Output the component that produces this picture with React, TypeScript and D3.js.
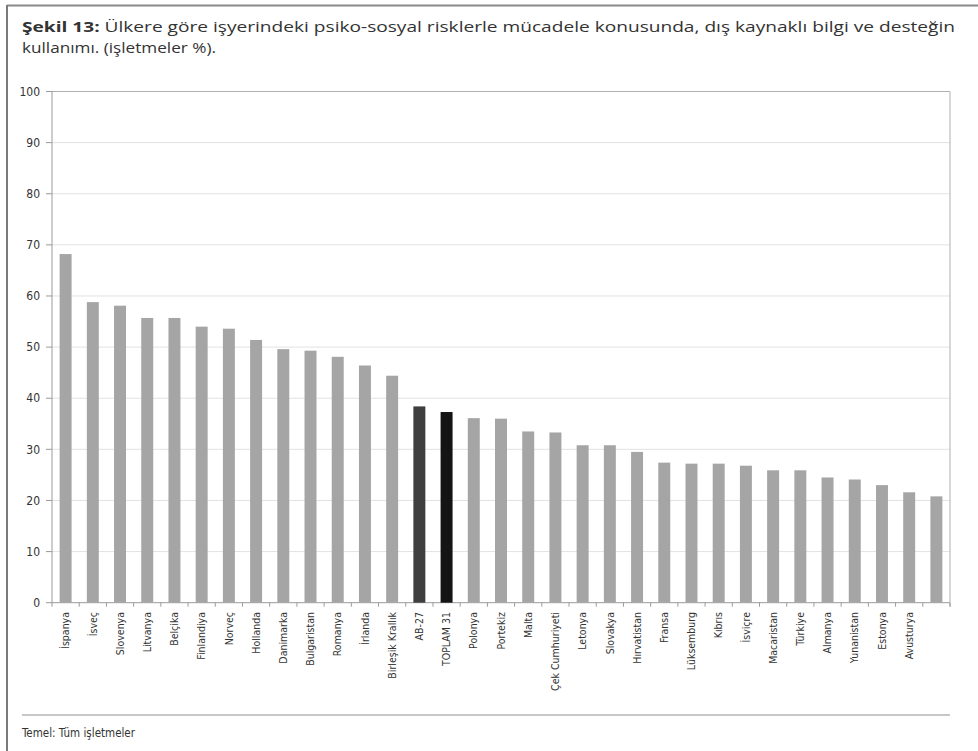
import React from "react";
import * as d3 from "d3";

const categories: string[] = [
  "İspanya", "İsveç", "Slovenya", "Litvanya", "Belçika", "Finlandiya", "Norveç",
  "Hollanda", "Danimarka", "Bulgaristan", "Romanya", "İrlanda", "Birleşik Krallık",
  "AB-27", "TOPLAM 31", "Polonya", "Portekiz", "Malta", "Çek Cumhuriyeti", "Letonya",
  "Slovakya", "Hırvatistan", "Fransa", "Lüksemburg", "Kıbrıs", "İsviçre", "Macaristan",
  "Türkiye", "Almanya", "Yunanistan", "Estonya", "Avusturya", "",
];
const values: number[] = [
  68.2, 58.8, 58.1, 55.7, 55.7, 54.0, 53.6, 51.4, 49.6, 49.3, 48.1, 46.4, 44.4,
  38.4, 37.3, 36.1, 36.0, 33.5, 33.3, 30.8, 30.8, 29.5, 27.4, 27.2, 27.2, 26.8,
  25.9, 25.9, 24.5, 24.1, 23.0, 21.6, 20.8,
];
const highlight: Record<string, string> = { "AB-27": "#3f3f3f", "TOPLAM 31": "#141414" };
const yTicks: number[] = [0, 10, 20, 30, 40, 50, 60, 70, 80, 90, 100];
const titleBold = "Şekil 13:";
const titleRest1 = " Ülkere göre işyerindeki psiko-sosyal risklerle mücadele konusunda, dış kaynaklı bilgi ve desteğin";
const titleLine2 = "kullanımı. (işletmeler %).";
const footerText = "Temel: Tüm işletmeler";

const W = 978;
const H = 751;
const left = 52;
const right = 950;
const top = 91.5;
const bottom = 602.7;
const narrow = "'Liberation Sans Narrow', 'DejaVu Sans Condensed', sans-serif";
const titleFont = "'Open Sans', 'Noto Sans', sans-serif";

export default function App() {
  const idx = categories.map((_, i) => String(i));
  const x = d3.scaleBand<string>().domain(idx).range([left, right]).paddingInner(0.56).paddingOuter(0.28);
  const xb = d3.scaleBand<string>().domain(idx).range([left, right]);
  const y = d3.scaleLinear().domain([0, 100]).range([bottom, top]);

  return (
    <div style={{ position: "absolute", left: 0, top: 0, width: W, height: H, background: "#fff" }}>
      <svg width={W} height={H} style={{ display: "block" }}>
        <rect x={0} y={0} width={W} height={H} fill="#fff" />
        {/* frame */}
        <line x1={7} x2={W} y1={5.5} y2={5.5} stroke="#8a8a8a" strokeWidth={2} />
        <line x1={7} x2={7} y1={5} y2={H} stroke="#7a7a7a" strokeWidth={2} />

        {/* title */}
        <text x={22} y={32} fontFamily={titleFont} fontSize={15} fill="#333" textLength={933} lengthAdjust="spacingAndGlyphs">
          <tspan fontWeight="bold">{titleBold}</tspan>
          <tspan>{titleRest1}</tspan>
        </text>
        <text x={22} y={53} fontFamily={titleFont} fontSize={15} fill="#333" textLength={194} lengthAdjust="spacingAndGlyphs">
          {titleLine2}
        </text>

        {/* gridlines */}
        {yTicks.map((t) => (
          <line key={"g" + t} x1={left} x2={right} y1={y(t)} y2={y(t)}
            stroke={t === 0 ? "#9a9a9a" : t === 100 ? "#b0b0b0" : "#e2e2e2"} strokeWidth={1} />
        ))}
        {/* right border of plot */}
        <line x1={right} x2={right} y1={top} y2={bottom + 4} stroke="#b0b0b0" strokeWidth={1} />
        {/* y axis */}
        <line x1={left} x2={left} y1={top} y2={bottom + 4} stroke="#9a9a9a" strokeWidth={1} />
        {yTicks.map((t) => (
          <g key={"t" + t}>
            <line x1={left - 6} x2={left} y1={y(t)} y2={y(t)} stroke="#9a9a9a" />
            <text x={40} y={y(t)} dy="0.35em" textAnchor="end" fontFamily={narrow} fontSize={12} fill="#333">
              {t}
            </text>
          </g>
        ))}
        {/* x ticks at band boundaries */}
        {idx.map((k) => (
          <line key={"xt" + k} x1={(xb(k) as number) + xb.bandwidth()} x2={(xb(k) as number) + xb.bandwidth()}
            y1={bottom} y2={bottom + 4} stroke="#9a9a9a" />
        ))}

        {/* bars */}
        {values.map((v, i) => (
          <rect key={"b" + i} x={x(String(i))} y={y(v)} width={x.bandwidth()} height={y(0) - y(v)}
            fill={highlight[categories[i]] || "#a5a5a5"} />
        ))}

        {/* x labels */}
        {categories.map((c, i) => {
          const cx = (xb(String(i)) as number) + xb.bandwidth() / 2;
          return (
            <text key={"l" + i} transform={`translate(${cx},612) rotate(-90)`} dy="0.35em" textAnchor="end"
              fontFamily={narrow} fontSize={10.5} fill="#333">
              {c}
            </text>
          );
        })}

        {/* footer */}
        <line x1={22} x2={right} y1={715} y2={715} stroke="#b5b5b5" strokeWidth={1.5} />
        <text x={22} y={737} fontFamily={narrow} fontSize={11.5} fill="#333">{footerText}</text>
      </svg>
    </div>
  );
}
